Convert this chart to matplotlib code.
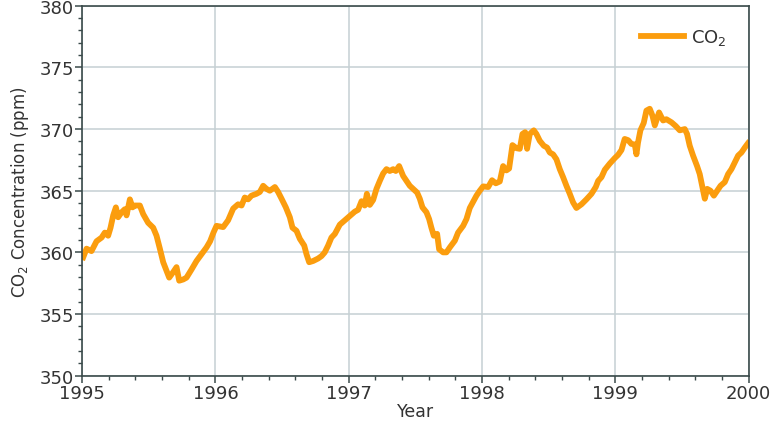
"""Weekly CO2 concentration, 1995-2000."""
import matplotlib
import matplotlib.pyplot as plt
from matplotlib.ticker import MultipleLocator

matplotlib.use("Agg")

# values
years = [
    1995.008, 1995.033, 1995.070, 1995.108, 1995.146, 1995.170, 1995.195, 1995.213,
    1995.233, 1995.253, 1995.270, 1995.296, 1995.320, 1995.333, 1995.358, 1995.378,
    1995.395, 1995.433, 1995.458, 1995.495, 1995.533, 1995.558, 1995.583, 1995.608,
    1995.633, 1995.653, 1995.683, 1995.708, 1995.728, 1995.758, 1995.783, 1995.820,
    1995.858, 1995.896, 1995.933, 1995.960, 1995.985, 1996.008, 1996.058, 1996.095,
    1996.133, 1996.170, 1996.196, 1996.220, 1996.245, 1996.270, 1996.308, 1996.333,
    1996.358, 1996.383, 1996.408, 1996.446, 1996.470, 1996.496, 1996.528, 1996.558,
    1996.578, 1996.608, 1996.633, 1996.666, 1996.683, 1996.703, 1996.733, 1996.770,
    1996.796, 1996.820, 1996.845, 1996.870, 1996.896, 1996.933, 1996.970, 1997.008,
    1997.045, 1997.070, 1997.096, 1997.120, 1997.136, 1997.158, 1997.183, 1997.208,
    1997.233, 1997.258, 1997.283, 1997.308, 1997.333, 1997.353, 1997.378, 1997.408,
    1997.433, 1997.458, 1997.483, 1997.513, 1997.533, 1997.553, 1997.583, 1997.603,
    1997.620, 1997.638, 1997.663, 1997.678, 1997.708, 1997.733, 1997.758, 1997.796,
    1997.820, 1997.858, 1997.883, 1997.908, 1997.933, 1997.958, 1997.983, 1998.008,
    1998.046, 1998.075, 1998.103, 1998.133, 1998.158, 1998.183, 1998.203, 1998.228,
    1998.258, 1998.283, 1998.303, 1998.323, 1998.338, 1998.358, 1998.388, 1998.408,
    1998.433, 1998.463, 1998.488, 1998.508, 1998.533, 1998.558, 1998.583, 1998.608,
    1998.633, 1998.658, 1998.683, 1998.708, 1998.746, 1998.783, 1998.821, 1998.853,
    1998.871, 1998.896, 1998.921, 1998.958, 1998.996, 1999.020, 1999.046, 1999.070,
    1999.096, 1999.120, 1999.146, 1999.158, 1999.170, 1999.188, 1999.213, 1999.233,
    1999.258, 1999.278, 1999.296, 1999.328, 1999.358, 1999.383, 1999.421, 1999.453,
    1999.483, 1999.521, 1999.538, 1999.558, 1999.583, 1999.613, 1999.633, 1999.653,
    1999.671, 1999.689, 1999.714, 1999.739, 1999.764, 1999.789, 1999.821, 1999.846,
    1999.871, 1999.896, 1999.921, 1999.946, 1999.971, 1999.995,
]
co2 = [
    359.60, 360.30, 360.10, 360.90, 361.20, 361.60, 361.35, 362.00,
    363.00, 363.65, 362.85, 363.25, 363.50, 363.00, 364.30, 363.65,
    363.80, 363.80, 363.10, 362.40, 362.00, 361.35, 360.30, 359.20,
    358.50, 357.95, 358.40, 358.80, 357.70, 357.80, 357.95, 358.60,
    359.30, 359.85, 360.40, 360.90, 361.60, 362.15, 362.05, 362.60,
    363.55, 363.90, 363.80, 364.45, 364.30, 364.60, 364.75, 364.90,
    365.40, 365.15, 365.00, 365.30, 364.90, 364.35, 363.65, 362.85,
    362.00, 361.75, 361.10, 360.55, 359.85, 359.20, 359.30, 359.50,
    359.70, 360.00, 360.55, 361.20, 361.50, 362.25, 362.60, 362.95,
    363.30, 363.45, 364.15, 363.80, 364.75, 363.85, 364.25, 365.15,
    365.80, 366.40, 366.75, 366.60, 366.75, 366.60, 367.00, 366.20,
    365.80, 365.40, 365.15, 364.85, 364.35, 363.65, 363.25, 362.70,
    362.00, 361.35, 361.50, 360.25, 360.00, 360.00, 360.40, 360.95,
    361.60, 362.15, 362.70, 363.60, 364.10, 364.60, 365.00, 365.35,
    365.30, 365.85, 365.60, 365.75, 367.00, 366.65, 366.80, 368.70,
    368.45, 368.40, 369.60, 369.75, 368.40, 369.60, 369.90, 369.60,
    369.05, 368.65, 368.50, 368.10, 367.95, 367.55, 366.75, 366.10,
    365.40, 364.75, 364.05, 363.60, 363.90, 364.30, 364.75, 365.30,
    365.80, 366.10, 366.70, 367.20, 367.65, 367.90, 368.30, 369.20,
    369.10, 368.80, 368.75, 367.95, 368.90, 369.90, 370.50, 371.50,
    371.65, 371.10, 370.30, 371.35, 370.70, 370.80, 370.55, 370.25,
    369.90, 370.00, 369.60, 368.65, 367.85, 367.00, 366.35, 365.30,
    364.35, 365.15, 365.00, 364.60, 365.00, 365.40, 365.70, 366.35,
    366.75, 367.30, 367.85, 368.10, 368.50, 368.85,
]

line_color = "#fb9d0e"
text_color = "#333333"

fig = plt.figure(figsize=(7.75, 4.27), dpi=100)
ax = fig.add_axes([0.106, 0.118, 0.860, 0.866])

ax.plot(years, co2, color=line_color, linewidth=4.2, label="CO$_2$",
        solid_joinstyle="round")

ax.set_xlim(1995, 2000)
ax.set_ylim(350, 380)
ax.xaxis.set_major_locator(MultipleLocator(1))
ax.xaxis.set_minor_locator(MultipleLocator(0.2))
ax.yaxis.set_major_locator(MultipleLocator(5))
ax.yaxis.set_minor_locator(MultipleLocator(1))
ax.xaxis.set_major_formatter(plt.FuncFormatter(lambda v, p: f"{int(round(v))}"))

ax.grid(True, which="major", color="#c5d0d3", linewidth=1.1)
ax.set_axisbelow(True)
for side in ax.spines.values():
    side.set_color("#3a4a4a")
    side.set_linewidth(1.2)

ax.tick_params(which="major", direction="out", length=5, width=1.1,
               colors="#3a4a4a", labelsize=13, labelcolor=text_color, pad=1)
ax.tick_params(which="minor", direction="out", length=3, width=1,
               colors="#3a4a4a")

ax.set_xlabel("Year", fontsize=12.5, color=text_color, labelpad=0)
ax.set_ylabel("CO$_2$ Concentration (ppm)", fontsize=12, color=text_color,
              labelpad=6)

ax.legend(loc="upper right", frameon=False, fontsize=13, handlelength=2.4,
          handletextpad=0.4, labelcolor=text_color, borderaxespad=0.8)

fig.savefig("out.png", dpi=100)
